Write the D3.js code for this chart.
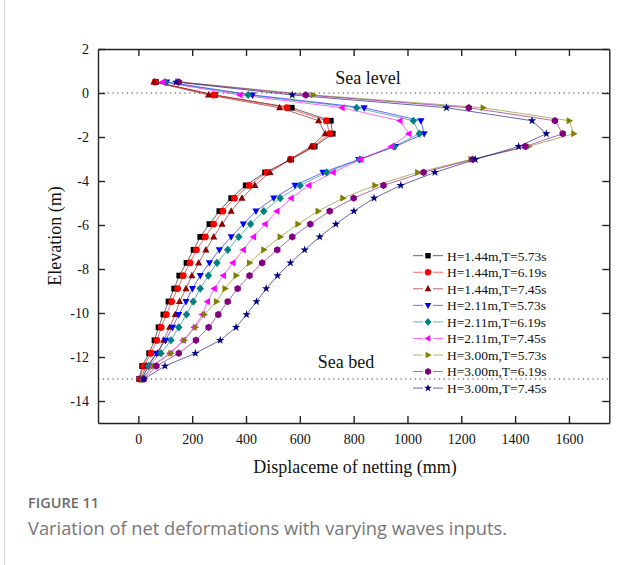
<!DOCTYPE html>
<html>
<head>
<meta charset="utf-8">
<script src="https://cdn.jsdelivr.net/npm/d3@7"></script>
<style>
  html, body { margin: 0; padding: 0; background: #fff; }
  svg { display: block; }
</style>
</head>
<body>
<svg id="chart" width="641" height="565"></svg>
<script>
// ---------------- DATA ----------------
const elevations = [0.5, -0.09, -0.67, -1.26, -1.85, -2.43, -3.02, -3.61, -4.2, -4.78, -5.37, -5.96,
                    -6.54, -7.13, -7.72, -8.3, -8.89, -9.48, -10.07, -10.65, -11.24, -11.83, -12.41, -13.0];

const seriesNames = ["H=1.44m,T=5.73s", "H=1.44m,T=6.19s", "H=1.44m,T=7.45s",
                     "H=2.11m,T=5.73s", "H=2.11m,T=6.19s", "H=2.11m,T=7.45s",
                     "H=3.00m,T=5.73s", "H=3.00m,T=6.19s", "H=3.00m,T=7.45s"];

const h144t573 = [65, 284, 570, 715, 722, 655, 568, 471, 399, 345, 301, 264, 230, 205, 179, 152, 133, 112, 93, 75, 60, 40, 14, 3];
const h144t619 = [62, 280, 552, 698, 711, 649, 565, 478, 412, 357, 314, 280, 249, 216, 192, 167, 146, 124, 104, 85, 69, 47, 20, 5];
const h144t745 = [58, 261, 525, 670, 694, 642, 562, 489, 433, 385, 345, 311, 280, 251, 224, 199, 177, 153, 137, 116, 94, 72, 30, 8];
const h211t573 = [105, 424, 839, 1050, 1062, 955, 819, 686, 582, 503, 437, 390, 345, 301, 264, 230, 201, 177, 150, 127, 101, 67, 37, 12];
const h211t619 = [100, 408, 811, 1022, 1044, 950, 823, 700, 601, 527, 466, 417, 373, 332, 292, 260, 230, 204, 179, 150, 121, 84, 37, 14];
const h211t745 = [90, 378, 757, 972, 1005, 940, 826, 724, 633, 568, 515, 471, 428, 390, 351, 316, 282, 257, 238, 207, 167, 117, 50, 15];
const h300t573 = [155, 650, 1281, 1601, 1618, 1450, 1236, 1038, 879, 760, 668, 593, 527, 466, 413, 363, 322, 290, 245, 212, 170, 121, 55, 17];
const h300t619 = [150, 622, 1228, 1548, 1577, 1438, 1242, 1060, 911, 800, 711, 639, 572, 516, 460, 413, 369, 332, 297, 261, 214, 150, 67, 20];
const h300t745 = [140, 572, 1145, 1463, 1516, 1413, 1252, 1102, 975, 876, 801, 734, 674, 618, 565, 517, 475, 439, 402, 363, 304, 212, 99, 21];

const seriesValues = [h144t573, h144t619, h144t745, h211t573, h211t619, h211t745, h300t573, h300t619, h300t745];

const xTickValues = [0, 200, 400, 600, 800, 1000, 1200, 1400, 1600];
const yTickValues = [-14, -12, -10, -8, -6, -4, -2, 0, 2];

const seaLevel = 0;
const seaBed = -13;

// ---------------- STYLE ----------------
const colors = ["#000000", "#ff0000", "#8b0000", "#0000ff", "#008080", "#ff00ff", "#808000", "#800080", "#000080"];
const shapes = ["square", "circle", "triUp", "triDown", "diamond", "triLeft", "triRight", "hexagon", "star"];

function polySym(points) {
  return {
    draw(ctx, r) {
      points.forEach((p, i) => {
        const px = p[0] * r, py = p[1] * r;
        if (i === 0) ctx.moveTo(px, py); else ctx.lineTo(px, py);
      });
      ctx.closePath();
    }
  };
}
const symTypes = {
  square: polySym([[-0.85,-0.85],[0.85,-0.85],[0.85,0.85],[-0.85,0.85]]),
  circle: { draw(ctx, r) { ctx.moveTo(r, 0); ctx.arc(0, 0, r, 0, 2 * Math.PI); } },
  triUp: polySym([[0,-1.15],[1.05,0.75],[-1.05,0.75]]),
  triDown: polySym([[0,1.15],[1.05,-0.75],[-1.05,-0.75]]),
  triLeft: polySym([[-1.15,0],[0.75,-1.05],[0.75,1.05]]),
  triRight: polySym([[1.15,0],[-0.75,-1.05],[-0.75,1.05]]),
  diamond: polySym([[0,-1.2],[1.1,0],[0,1.2],[-1.1,0]]),
  hexagon: polySym(d3.range(6).map(i => [Math.cos(Math.PI/6 + i*Math.PI/3)*1.08, Math.sin(Math.PI/6 + i*Math.PI/3)*1.08])),
  star: polySym(d3.range(10).map(i => {
    const a = -Math.PI/2 + i*Math.PI/5, rr = i % 2 ? 0.5 : 1.3;
    return [Math.cos(a)*rr, Math.sin(a)*rr];
  }))
};

const svg = d3.select("#chart");
svg.append("rect").attr("width", 641).attr("height", 565).attr("fill", "#fff");
svg.append("line").attr("x1", 4.5).attr("x2", 4.5).attr("y1", 0).attr("y2", 565)
   .attr("stroke", "#d6d6d6").attr("stroke-width", 1);

const M = { left: 98, right: 609.3, top: 49, bottom: 423 };
const x = d3.scaleLinear().domain([-150, 1750]).range([M.left, M.right]);
const y = d3.scaleLinear().domain([-15, 2]).range([M.bottom, M.top]);

const serif = "'Liberation Serif','Times New Roman',serif";

[seaLevel, seaBed].forEach(v => {
  svg.append("line")
    .attr("x1", M.left).attr("x2", M.right)
    .attr("y1", y(v)).attr("y2", y(v))
    .attr("stroke", "#333").attr("stroke-width", 1.1)
    .attr("stroke-dasharray", "1.2,3.6");
});

svg.append("text").attr("x", 368).attr("y", 84).attr("text-anchor", "middle")
  .attr("font-family", serif).attr("font-size", 18).attr("fill", "#111").text("Sea level");
svg.append("text").attr("x", 346).attr("y", 368).attr("text-anchor", "middle")
  .attr("font-family", serif).attr("font-size", 18).attr("fill", "#111").text("Sea bed");

const line = d3.line().x(d => x(d[0])).y(d => y(d[1]));
seriesValues.forEach((vals, si) => {
  const pts = vals.map((v, i) => [v, elevations[i]]);
  svg.append("path").datum(pts)
    .attr("d", line).attr("fill", "none")
    .attr("stroke", colors[si]).attr("stroke-opacity", 0.6).attr("stroke-width", 1);
});
seriesValues.forEach((vals, si) => {
  const pts = vals.map((v, i) => [v, elevations[i]]);
  const sym = d3.symbol().type(symTypes[shapes[si]]).size(3.4);
  svg.append("g").selectAll("path").data(pts).join("path")
    .attr("transform", d => `translate(${x(d[0])},${y(d[1])})`)
    .attr("d", sym).attr("fill", colors[si]);
});

const axisColor = "#222";
const plainFmt = d => String(d);
function styleAxis(g) {
  g.select(".domain").attr("stroke", axisColor).attr("stroke-width", 1.4);
  g.selectAll(".tick line").attr("stroke", axisColor).attr("stroke-width", 1.4);
  g.selectAll(".tick text").attr("font-family", serif).attr("font-size", 14).attr("fill", "#111");
}
svg.append("g").attr("transform", `translate(0,${M.bottom})`)
  .call(d3.axisBottom(x).tickValues(xTickValues).tickFormat(plainFmt).tickSizeInner(-7).tickSizeOuter(0).tickPadding(11))
  .call(styleAxis);
svg.append("g").attr("transform", `translate(0,${M.top})`)
  .call(d3.axisTop(x).tickValues(xTickValues).tickSizeInner(-7).tickSizeOuter(0).tickFormat(""))
  .call(styleAxis);
svg.append("g").attr("transform", `translate(${M.left},0)`)
  .call(d3.axisLeft(y).tickValues(yTickValues).tickFormat(plainFmt).tickSizeInner(-7).tickSizeOuter(0).tickPadding(9))
  .call(styleAxis);
svg.append("g").attr("transform", `translate(${M.right},0)`)
  .call(d3.axisRight(y).tickValues(yTickValues).tickSizeInner(-7).tickSizeOuter(0).tickFormat(""))
  .call(styleAxis);

svg.append("text").attr("x", 355).attr("y", 473).attr("text-anchor", "middle")
  .attr("font-family", serif).attr("font-size", 18).attr("fill", "#111")
  .text("Displaceme of netting (mm)");
svg.append("text").attr("transform", "translate(61,236) rotate(-90)").attr("text-anchor", "middle")
  .attr("font-family", serif).attr("font-size", 18).attr("fill", "#111")
  .text("Elevation (m)");

const lg = svg.append("g");
seriesNames.forEach((name, i) => {
  const cy = 255.7 + i * 16.55;
  const row = lg.append("g");
  row.append("line").attr("x1", 413).attr("x2", 423).attr("y1", cy).attr("y2", cy)
    .attr("stroke", colors[i]).attr("stroke-opacity", 0.6).attr("stroke-width", 1);
  row.append("line").attr("x1", 433).attr("x2", 443).attr("y1", cy).attr("y2", cy)
    .attr("stroke", colors[i]).attr("stroke-opacity", 0.6).attr("stroke-width", 1);
  row.append("path").attr("transform", `translate(428,${cy})`)
    .attr("d", d3.symbol().type(symTypes[shapes[i]]).size(3.2)).attr("fill", colors[i]);
  row.append("text").attr("x", 447).attr("y", cy + 4.8)
    .attr("font-family", serif).attr("font-size", 13.5).attr("fill", "#111").text(name);
});

svg.append("text").attr("x", 28).attr("y", 508)
  .attr("font-family", "'Open Sans', sans-serif").attr("font-weight", 600).attr("font-size", 14.5)
  .attr("fill", "#6b6b6b").text("FIGURE 11");
svg.append("text").attr("x", 28).attr("y", 535)
  .attr("font-family", "'Open Sans', sans-serif").attr("font-size", 18.3)
  .attr("fill", "#777").text("Variation of net deformations with varying waves inputs.");
</script>
</body>
</html>
